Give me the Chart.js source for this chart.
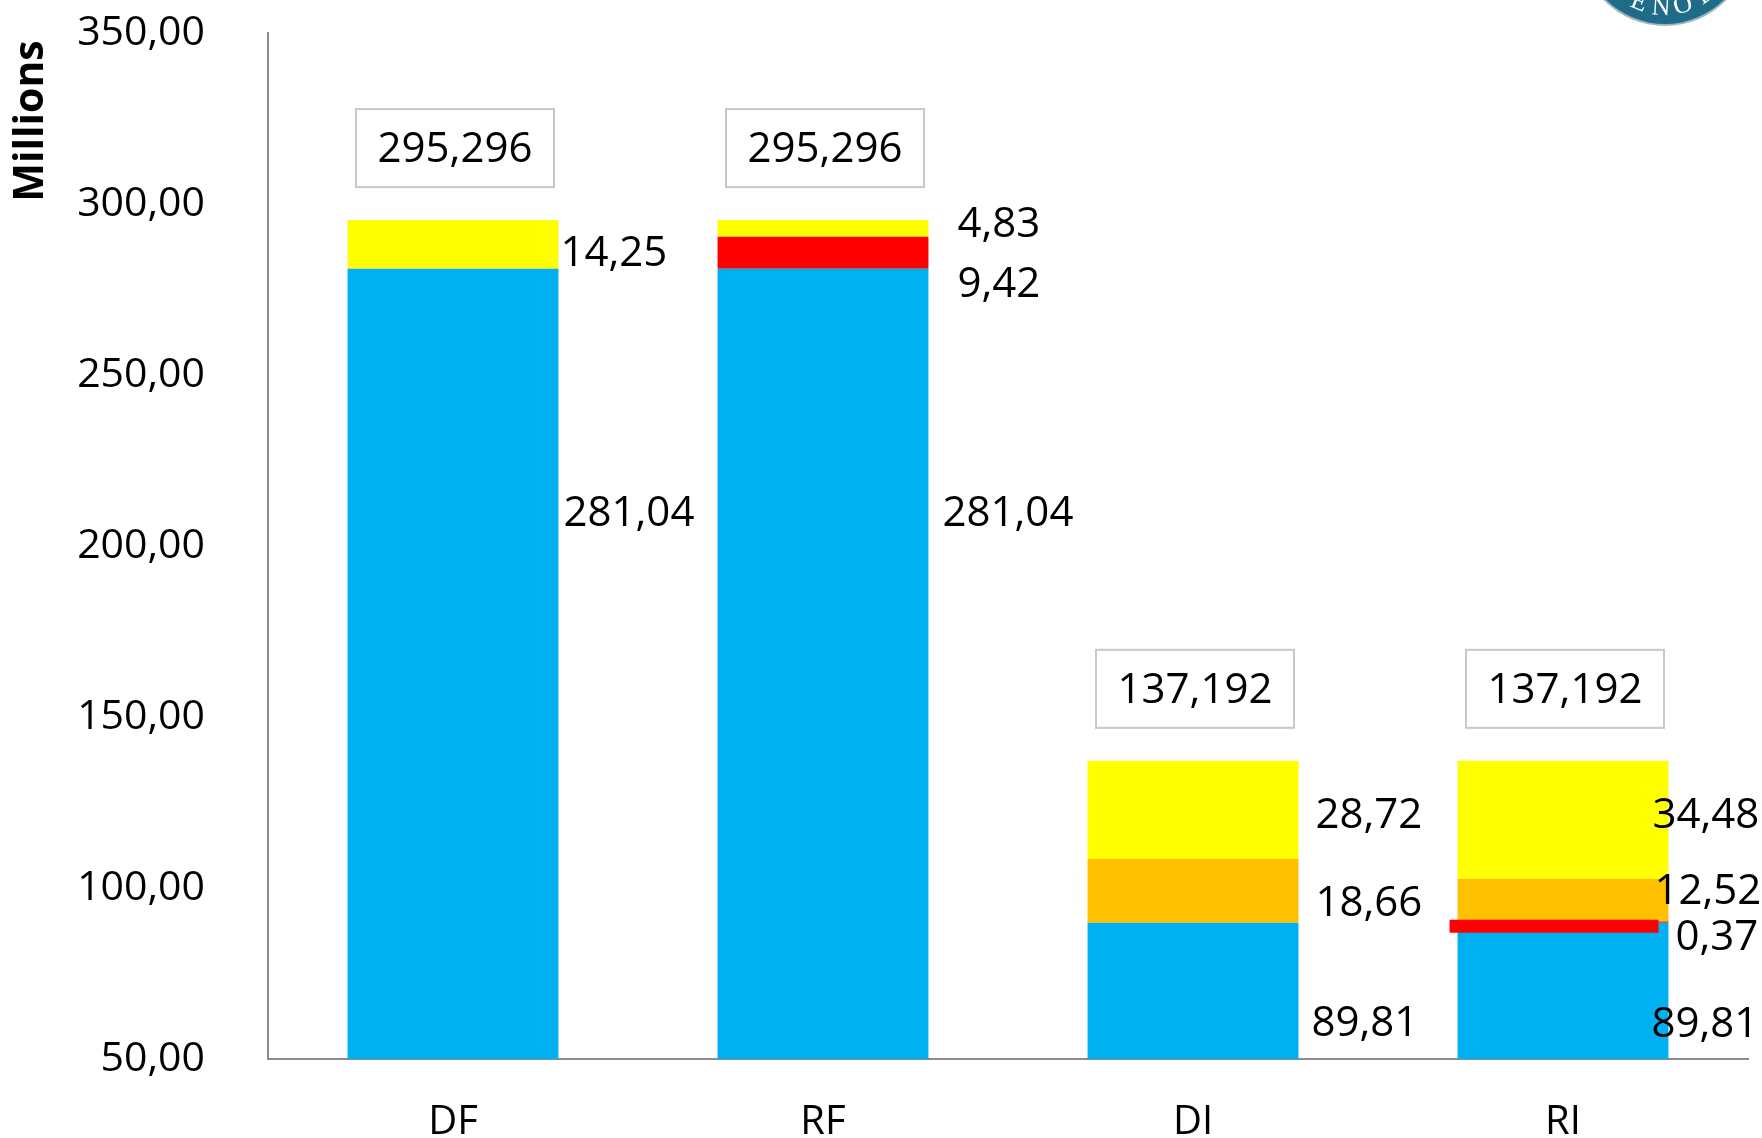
<!DOCTYPE html>
<html>
<head>
<meta charset="utf-8">
<script src="https://cdn.jsdelivr.net/npm/chart.js@4.4.0/dist/chart.umd.min.js"></script>
<style>
  html, body { margin: 0; padding: 0; background: #fff; }
  canvas { display: block; }
</style>
</head>
<body>
<canvas id="chart" width="1762" height="1138"></canvas>
<script>
// ===== Data =====
const categories = ['DF', 'RF', 'DI', 'RI'];
const blueValues = [281.04, 281.04, 89.81, 89.81];
const redValues = [0, 9.42, 0, 0.37];
const orangeValues = [0, 0, 18.66, 12.52];
const yellowValues = [14.25, 4.83, 28.72, 34.48];
const totals = [295.296, 295.296, 137.192, 137.192];
const yTicks = [50, 100, 150, 200, 250, 300, 350];

// ===== Label placement (px): [dx from bar right edge, dy from segment middle] =====
const labelNudge = [
    [[5, -152], [14, -152], [13, 31], [-17, 32]],   // blue
    [null, [29, 30], null, [7, 14]],                // red
    [null, null, [17, 11], [-14, -10]],             // orange
    [[2, 8], [29, -5], [17, 4], [-16, -6]]          // yellow
];

const FONT = '"Open Sans", "Noto Sans", sans-serif';
const fmt = (v, d) => v.toFixed(d).replace('.', ',');

// ===== Overlay: labels, total boxes, title, logo =====
const overlay = {
    id: 'overlay',
    afterDatasetsDraw(chart) {
        const ctx = chart.ctx;
        const area = chart.chartArea;
        ctx.save();

        // thick red mark on RI (Excel draws the tiny segment as a heavy line)
        const redEl = chart.getDatasetMeta(1).data[3];
        const midRed = (redEl.y + redEl.base) / 2 + 4;
        ctx.fillStyle = '#ff0000';
        ctx.fillRect(redEl.x - redEl.width / 2 - 8, midRed - 6.5, redEl.width - 2, 13);

        // value labels
        ctx.fillStyle = '#000';
        ctx.font = '42px ' + FONT;
        ctx.textAlign = 'left';
        ctx.textBaseline = 'middle';
        chart.data.datasets.forEach((ds, i) => {
            chart.getDatasetMeta(i).data.forEach((el, j) => {
                const v = ds.data[j];
                const n = labelNudge[i][j];
                if (!v || !n) return;
                const base = Math.min(el.base, area.bottom);
                const x = el.x + el.width / 2 + n[0];
                const y = (el.y + base) / 2 + n[1] + 2;
                ctx.fillText(fmt(v, 2), x, y);
            });
        });

        // total boxes
        const topMeta = chart.getDatasetMeta(chart.data.datasets.length - 1);
        ctx.textAlign = 'center';
        topMeta.data.forEach((el, j) => {
            const w = 198, h = 78;
            const cx = el.x + 2;
            const bottom = el.y - 33;
            ctx.fillStyle = '#fff';
            ctx.fillRect(cx - w / 2, bottom - h, w, h);
            ctx.strokeStyle = '#c8c8c8';
            ctx.lineWidth = 2;
            ctx.strokeRect(cx - w / 2, bottom - h, w, h);
            ctx.fillStyle = '#000';
            ctx.fillText(fmt(totals[j], 3), cx, bottom - h / 2 + 2);
        });
        ctx.restore();
    },
    afterDraw(chart) {
        const ctx = chart.ctx;
        ctx.save();
        // axis title
        ctx.translate(31, 121);
        ctx.rotate(-Math.PI / 2);
        ctx.font = 'bold 41px ' + FONT;
        ctx.fillStyle = '#000';
        ctx.textAlign = 'center';
        ctx.textBaseline = 'middle';
        ctx.fillText('Millions', 0, 0);
        ctx.restore();

        // logo corner (bottom of a round seal)
        ctx.save();
        const cx = 1665, cy = -60;
        ctx.beginPath();
        ctx.arc(cx, cy, 86, 0, Math.PI * 2);
        ctx.fillStyle = '#9fb6c0';
        ctx.fill();
        ctx.beginPath();
        ctx.arc(cx, cy, 84, 0, Math.PI * 2);
        ctx.fillStyle = '#1f6c88';
        ctx.fill();
        ctx.fillStyle = '#fff';
        ctx.font = '26px "Liberation Serif", serif';
        ctx.textAlign = 'center';
        ctx.textBaseline = 'middle';
        const letters = ['E', 'N', 'O', 'L'];
        const offs = [-26, -4, 18, 40];
        letters.forEach((c, k) => {
            const th = Math.asin(offs[k] / 68);
            ctx.save();
            ctx.translate(cx + 68 * Math.sin(th), cy + 68 * Math.cos(th));
            ctx.rotate(-th);
            ctx.fillText(c, 0, 0);
            ctx.restore();
        });
        ctx.restore();
    }
};

// ===== Chart =====
new Chart(document.getElementById('chart'), {
    type: 'bar',
    data: {
        labels: categories,
        datasets: [
            { label: 'blue', data: blueValues, backgroundColor: '#00b0f0' },
            { label: 'red', data: redValues, backgroundColor: '#ff0000' },
            { label: 'orange', data: orangeValues, backgroundColor: '#ffc000' },
            { label: 'yellow', data: yellowValues, backgroundColor: '#ffff00' }
        ]
    },
    options: {
        responsive: false,
        animation: false,
        devicePixelRatio: 1,
        barPercentage: 0.57,
        categoryPercentage: 1,
        layout: { padding: { top: 33, right: 14, left: 0, bottom: 0 } },
        plugins: { legend: { display: false }, tooltip: { enabled: false } },
        scales: {
            x: {
                stacked: true,
                grid: { display: false, drawTicks: false },
                border: { display: true, color: '#8c8c8c', width: 2 },
                ticks: { color: '#000', font: { family: FONT, size: 40 }, padding: 40 },
                afterFit: s => { s.height = 79; s.paddingLeft = 0; s.paddingRight = 0; }
            },
            y: {
                stacked: true,
                min: 50,
                max: 350,
                grid: { display: false, drawTicks: false },
                border: { display: true, color: '#8c8c8c', width: 2 },
                ticks: {
                    color: '#000',
                    font: { family: FONT, size: 41 },
                    padding: 63,
                    callback: v => fmt(v, 2)
                },
                afterBuildTicks: s => { s.ticks = yTicks.map(v => ({ value: v })); },
                afterFit: s => { s.width = 268; s.paddingTop = 0; s.paddingBottom = 0; }
            }
        }
    },
    plugins: [overlay]
});
</script>
</body>
</html>
